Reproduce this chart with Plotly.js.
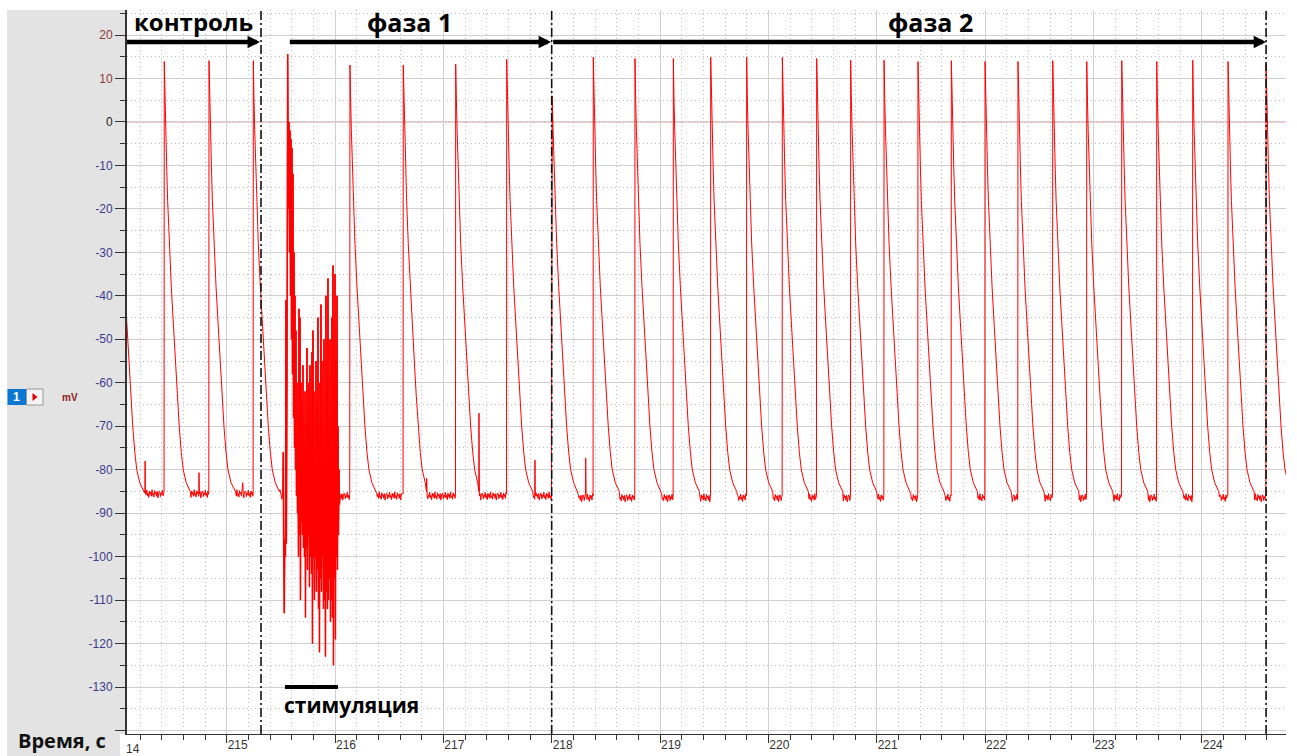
<!DOCTYPE html>
<html><head><meta charset="utf-8">
<script src="https://cdn.plot.ly/plotly-3.0.1.min.js"></script>
<style>html,body{margin:0;padding:0;background:#fff;}#chart{width:1297px;height:756px;}</style>
</head><body><div id="chart"></div>
<script>
// ---- data ----
const spikeTimes = [213.995, 214.424, 214.837, 215.246, 216.138, 216.630, 217.114, 217.585, 218.000,
  218.384, 218.769, 219.123, 219.468, 219.800, 220.129, 220.446, 220.760, 221.068, 221.381, 221.689,
  222.000, 222.304, 222.625, 222.939, 223.262, 223.585, 223.917, 224.243, 224.594];
const spikePeaks = [14.0, 13.9, 14.1, 14.1, 13.1, 13.1, 13.3, 14.4, 5.0,
  14.9, 14.6, 14.6, 14.9, 14.9, 14.9, 14.6, 14.2, 14.2, 13.9, 14.1,
  13.9, 13.9, 14.1, 13.9, 14.1, 13.9, 14.2, 13.9, 13.5];
// repolarisation shape of one action potential (s after peak, mV)
const decayOffsets = [0.0055, 0.013, 0.022, 0.031, 0.046, 0.065, 0.083, 0.102, 0.120, 0.138, 0.157, 0.175, 0.203, 0.240];
const decayValues  = [6, -2, -10, -18, -28, -38, -46, -55, -63, -70, -76, -80, -83, -85];
// resting level per phase
const baseStarts = [214.0, 215.5, 218.0];
const baseValues = [-85.5, -86.0, -86.4];
// small baseline fluctuation (mV)
const baseNoise = [0.5,-0.7,0.2,-0.3,0.8,-0.5,0.1,-0.9,0.6,-0.2,0.4,-0.6,0.9,-0.4,0.0,-0.8,0.7,-0.1,0.3,-0.6,0.5,-1.0,0.2,0.6];
// small sub-threshold spikelets
const spikeletTimes = [214.247, 214.745, 215.148, 216.846, 217.329, 217.846, 218.314];
const spikeletPeaks = [-78, -80.7, -83, -82, -67, -77.8, -77.3];
// stimulation episode (s, mV): artefacts, evoked spike and high-frequency response
const stimPreT = [215.5188, 215.5225, 215.5253, 215.5317, 215.5363, 215.5428, 215.5474, 215.5511, 215.5567, 215.5630];
const stimPreV = [-86, -76, -95, -113, -96, -100, -41, -97, -60, 15.6];
const stimTopT = [215.5659,215.5751,215.5843,215.5936,215.6028,215.6120,215.6213,215.6305,215.6397,215.6490,
  215.6582,215.6674,215.6766,215.6859,215.6951,215.7043,215.7136,215.7228,215.7320,215.7413,
  215.7505,215.7597,215.7690,215.7782,215.7874,215.7966,215.8059,215.8151,215.8243,215.8336,
  215.8428,215.8520,215.8613,215.8705,215.8797,215.8890,215.8982,215.9074,215.9166,215.9259,
  215.9351,215.9443,215.9536,215.9628,215.9720,215.9813,215.9905,215.9997,216.0090,216.0182,
  216.0274,216.0366];
const stimTopV = [1,0,-2,-4,-6,-12,-30,-40,-48,-60,
  -75,-43,-45,-60,-65,-56,-70,-62,-75,-52,
  -70,-60,-56,-72,-53,-48,-62,-80,-55,-65,
  -45,-70,-60,-42,-55,-80,-50,-78,-40,-60,
  -36,-75,-50,-80,-45,-33,-60,-35,-55,-40,
  -70,-80];
const stimBotT = [215.5705,215.5797,215.5889,215.5982,215.6074,215.6166,215.6259,215.6351,215.6443,215.6536,
  215.6628,215.6720,215.6812,215.6905,215.6997,215.7089,215.7182,215.7274,215.7366,215.7459,
  215.7551,215.7643,215.7736,215.7828,215.7920,215.8012,215.8105,215.8197,215.8289,215.8382,
  215.8474,215.8566,215.8659,215.8751,215.8843,215.8936,215.9028,215.9120,215.9212,215.9305,
  215.9397,215.9489,215.9582,215.9674,215.9766,215.9859,215.9951,216.0043,216.0136,216.0228,
  216.0320,216.0412];
const stimBotV = [-20,-30,-40,-50,-58,-68,-75,-80,-86,-90,
  -100,-95,-110,-92,-95,-98,-100,-114,-98,-103,
  -95,-107,-100,-104,-120,-100,-110,-100,-108,-103,
  -112,-122,-105,-108,-100,-112,-110,-123,-108,-112,
  -110,-105,-115,-110,-114,-125,-105,-119,-100,-103,
  -95,-88];
// markers
const phaseLines = [215.317, 218.0, 224.594];
const phaseLabels = ['контроль', 'фаза 1', 'фаза 2'];
const phaseArrowFrom = [214.065, 215.569, 218.0];
const phaseArrowTo = [215.307, 217.994, 224.594];
const stimBar = [215.538, 216.027];
const xTicks = [215,216,217,218,219,220,221,222,223,224];
const yTickVals = [20,10,0,-10,-20,-30,-40,-50,-60,-70,-80,-90,-100,-110,-120,-130,-140];
const yTickText = ['20','10','0','-10','-20','-30','-40','-50','-60','-70','-80','-90','-100','-110','-120','-130',''];

// ---- build the trace ----
function baseAt(t){let b=baseValues[0];for(let i=0;i<baseStarts.length;i++){if(t>=baseStarts[i])b=baseValues[i];}return b;}
const events=[];
spikeTimes.forEach((t,i)=>{
  const p=[[t-0.002,baseAt(t)+0.4],[t,spikePeaks[i]]];
  decayOffsets.forEach((o,k)=>p.push([t+o,decayValues[k]]));
  events.push({s:t-0.002,e:t+decayOffsets[decayOffsets.length-1],p});
});
spikeletTimes.forEach((t,i)=>{
  const b=baseAt(t);
  events.push({s:t-0.002,e:t+0.004,p:[[t-0.002,b+1],[t,spikeletPeaks[i]],[t+0.002,b+2],[t+0.004,b]]});
});
const SX=[],SY=[];
{
  const p=[];
  stimPreT.forEach((t,i)=>p.push([t,stimPreV[i]]));
  stimTopT.forEach((t,i)=>{p.push([t,stimTopV[i]]);p.push([stimBotT[i],stimBotV[i]]);});
  p.forEach(([t,v])=>{SX.push(t);SY.push(v);});
  events.push({s:stimPreT[0],e:stimBotT[stimBotT.length-1],p});
}
events.sort((a,b)=>a.s-b.s);
const X=[],Y=[];let ni=0;
function fill(t0,t1){for(let t=t0;t<t1;t+=0.006){X.push(t);Y.push(baseAt(t)+baseNoise[ni++%baseNoise.length]);}}
let cursor=213.98;
events.forEach((ev,i)=>{
  const next=events[i+1];
  fill(cursor+0.006,ev.s);
  ev.p.forEach(([t,v])=>{if(t>=cursor && (!next||t<next.s)){X.push(t);Y.push(v);}});
  cursor=Math.max(cursor,ev.e);
  if(next&&cursor>next.s)cursor=next.s-0.0005;
});
fill(cursor+0.006,224.85);

// ---- layout ----
const xr=[214.08,224.778];
const px=(p)=>(p-127)/1159;   // paper helpers for the side panel
const py=(p)=>(734-p)/724;
const yColors=yTickVals.map(v=>v>0?'#8b3a3a':(v===0?'#222':'#3c3c8c'));
const ticktext=yTickText.map((s,i)=>'<span style="color:'+yColors[i]+'">'+s+'</span>');

const shapes=[
  {type:'rect',xref:'paper',yref:'paper',x0:px(7),x1:0,y0:0,y1:py(10),fillcolor:'#e3e3e3',line:{width:0},layer:'below'},
  {type:'rect',xref:'paper',yref:'paper',x0:px(7),x1:px(120),y0:py(756),y1:0,fillcolor:'#e3e3e3',line:{width:0},layer:'below'},
  {type:'line',xref:'paper',x0:0,x1:1,yref:'y',y0:0,y1:0,line:{color:'#ff5a5a',width:1,dash:'2px,1px'},layer:'below'},
  {type:'rect',xref:'paper',yref:'paper',x0:px(7.5),x1:px(26),y0:py(405),y1:py(389),fillcolor:'#0a78d2',line:{width:0}},
  {type:'rect',xref:'paper',yref:'paper',x0:px(26.5),x1:px(43),y0:py(405),y1:py(389),fillcolor:'#f4f4f4',line:{color:'#9a9a9a',width:1}},
  {type:'path',xref:'paper',yref:'paper',path:'M '+px(32.5)+' '+py(393)+' L '+px(32.5)+' '+py(401)+' L '+px(37.5)+' '+py(397)+' Z',fillcolor:'#e00000',line:{width:0}},
  {type:'line',xref:'x',yref:'y',x0:stimBar[0],x1:stimBar[1],y0:-130,y1:-130,line:{color:'#000',width:4}}
];
phaseLines.forEach(t=>shapes.push({type:'line',xref:'x',yref:'paper',x0:t,x1:t,y0:0,y1:1,line:{color:'#111',width:1.6,dash:'9px,3px,2px,3px'}}));

const labFont={family:'Open Sans, DejaVu Sans, sans-serif',size:24,color:'#000',weight:700};
const annotations=[];
phaseArrowFrom.forEach((a,i)=>annotations.push({x:phaseArrowTo[i],y:18.4,ax:a,ay:18.4,xref:'x',yref:'y',axref:'x',ayref:'y',text:'',showarrow:true,arrowhead:2,arrowsize:0.55,arrowwidth:4.5,arrowcolor:'#000',standoff:0,startstandoff:0}));
annotations.push({x:214.125,y:23,xref:'x',yref:'y',xanchor:'left',yanchor:'middle',text:'<b>'+phaseLabels[0]+'</b>',showarrow:false,font:labFont});
annotations.push({x:216.683,y:23,xref:'x',yref:'y',xanchor:'center',yanchor:'middle',text:'<b>'+phaseLabels[1]+'</b>',showarrow:false,font:Object.assign({},labFont,{size:25})});
annotations.push({x:221.492,y:23,xref:'x',yref:'y',xanchor:'center',yanchor:'middle',text:'<b>'+phaseLabels[2]+'</b>',showarrow:false,font:Object.assign({},labFont,{size:25})});
annotations.push({x:215.510,y:-134.2,xref:'x',yref:'y',xanchor:'left',yanchor:'middle',text:'<b>стимуляция</b>',showarrow:false,font:Object.assign({},labFont,{size:21})});
annotations.push({x:px(61.5),y:py(740),xref:'paper',yref:'paper',xanchor:'center',yanchor:'middle',text:'<b>Время, с</b>',showarrow:false,font:{family:'Open Sans, DejaVu Sans, sans-serif',size:20,color:'#111'}});
annotations.push({x:px(16.75),y:py(397),xref:'paper',yref:'paper',xanchor:'center',yanchor:'middle',text:'<b>1</b>',showarrow:false,font:{family:'Liberation Sans, Arial, sans-serif',size:12,color:'#fff'}});
annotations.push({x:px(70),y:py(397.5),xref:'paper',yref:'paper',xanchor:'center',yanchor:'middle',text:'<b>mV</b>',showarrow:false,font:{family:'Liberation Sans, Arial, sans-serif',size:10,color:'#8b1c1c'}});
annotations.push({x:px(124),y:py(749),xref:'paper',yref:'paper',xanchor:'left',yanchor:'middle',text:'14',showarrow:false,font:{family:'Liberation Sans, Arial, sans-serif',size:12,color:'#333'}});

const layout={
  width:1297,height:756,margin:{l:127,r:11,t:10,b:22,pad:0},
  paper_bgcolor:'#fff',plot_bgcolor:'#fff',showlegend:false,
  font:{family:'Liberation Sans, Arial, sans-serif',size:12,color:'#333'},
  xaxis:{range:xr,tickmode:'array',tickvals:xTicks,ticks:'outside',ticklen:8,tickcolor:'#333',tickwidth:1,
    showline:true,linecolor:'#333',linewidth:1,showgrid:true,gridcolor:'#d0d0d0',gridwidth:1,zeroline:false,
    ticklabelposition:'outside right',tickfont:{size:12,color:'#333'},
    minor:{tickmode:'linear',tick0:0,dtick:0.2,ticks:'outside',ticklen:5,tickcolor:'#333',showgrid:true,gridcolor:'#bdbdbd',griddash:'1px,3px',gridwidth:1}},
  yaxis:{range:[-140.8,25.75],tickmode:'array',tickvals:yTickVals,ticktext:ticktext,ticks:'outside',ticklen:10,tickcolor:'#333',tickwidth:1,
    showline:true,linecolor:'#333',linewidth:2,showgrid:true,gridcolor:'#d0d0d0',gridwidth:1,zeroline:false,
    tickfont:{size:12},
    minor:{tickmode:'linear',tick0:0,dtick:5,ticks:'outside',ticklen:5,tickcolor:'#333',showgrid:true,gridcolor:'#bdbdbd',griddash:'1px,3px',gridwidth:1}},
  shapes,annotations
};
Plotly.newPlot('chart',[
  {type:'scatter',mode:'lines',x:X,y:Y,line:{color:'#ff0000',width:1},hoverinfo:'skip'},
  {type:'scatter',mode:'lines',x:SX,y:SY,line:{color:'#ff0000',width:1.5},hoverinfo:'skip'}
],layout,{displayModeBar:false,staticPlot:true});
</script></body></html>
